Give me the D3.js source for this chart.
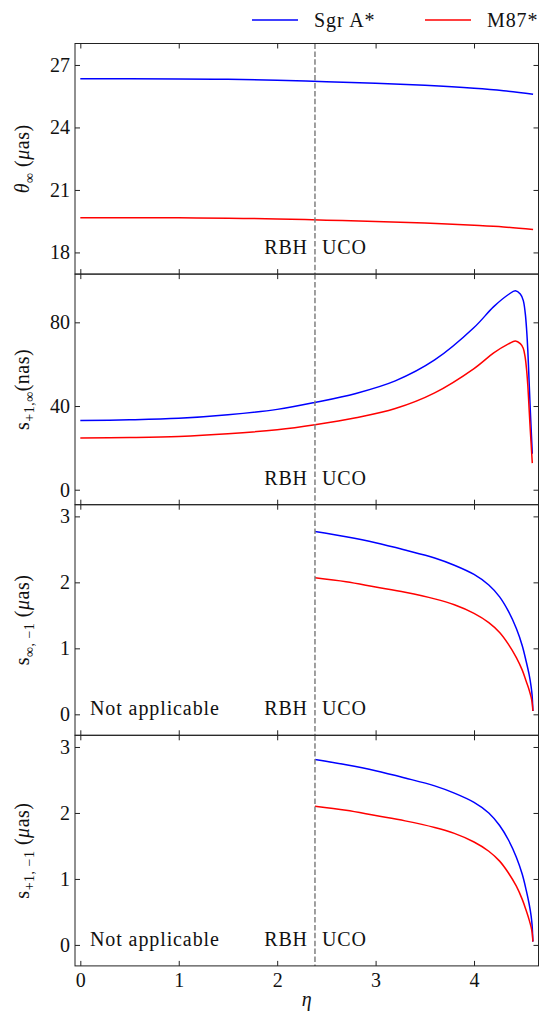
<!DOCTYPE html>
<html><head><meta charset="utf-8">
<script src="https://cdn.jsdelivr.net/npm/d3@7/dist/d3.min.js"></script>
<style>
body{margin:0;background:#fff;}
svg{display:block;}
</style></head>
<body><svg id="chart" width="542" height="1015"></svg>
<script>
// ---------- data ----------
const etaCritical = 2.384;
const xTicks = [0, 1, 2, 3, 4];
const seriesNames = ["Sgr A*", "M87*"];

// panel 1
const etaTheta = [0, 0.5, 1, 1.5, 2, 2.5, 3, 3.5, 4, 4.3, 4.6];
const thetaSgr = [26.34, 26.34, 26.33, 26.31, 26.27, 26.19, 26.12, 26.02, 25.88, 25.76, 25.59];
const thetaM87 = [19.67, 19.67, 19.66, 19.64, 19.61, 19.55, 19.49, 19.41, 19.30, 19.22, 19.10];

// panel 2
const etaS2 = [0, 0.5, 1, 1.5, 2, 2.384, 2.8, 3.2, 3.6, 4.0, 4.2, 4.35, 4.42, 4.47, 4.50, 4.52, 4.535, 4.547, 4.558, 4.568, 4.578, 4.592];
const sP1InfSgr = [33.1, 33.4, 34.1, 35.8, 38.4, 41.7, 46.0, 52.0, 62.0, 77.5, 87.5, 93.3, 95.1, 93.5, 90.5, 84.5, 76.0, 66.0, 53.5, 42.0, 31.5, 17.2];
const sP1InfM87 = [24.7, 24.9, 25.4, 26.7, 28.7, 31.1, 34.4, 38.8, 46.3, 57.9, 65.4, 69.7, 71.1, 69.8, 67.6, 63.1, 56.8, 49.3, 40.0, 31.4, 23.5, 12.7];

// panels 3 & 4 (UCO branch only)
const etaUCO = [2.384, 2.7, 3.0, 3.3, 3.6, 3.8, 4.0, 4.15, 4.26, 4.35, 4.43, 4.49, 4.53, 4.56, 4.58, 4.59, 4.598];
const sInfM1Sgr = [2.77, 2.69, 2.60, 2.49, 2.37, 2.26, 2.12, 1.96, 1.78, 1.56, 1.30, 1.04, 0.80, 0.60, 0.42, 0.29, 0.05];
const sInfM1M87 = [2.07, 2.01, 1.93, 1.85, 1.75, 1.66, 1.53, 1.39, 1.24, 1.06, 0.86, 0.67, 0.50, 0.37, 0.26, 0.18, 0.05];
const sP1M1Sgr = [2.81, 2.73, 2.64, 2.53, 2.41, 2.30, 2.16, 2.00, 1.81, 1.59, 1.33, 1.07, 0.83, 0.62, 0.44, 0.30, 0.05];
const sP1M1M87 = [2.10, 2.04, 1.96, 1.88, 1.78, 1.69, 1.56, 1.42, 1.27, 1.09, 0.89, 0.69, 0.52, 0.38, 0.27, 0.19, 0.05];

const yTicks1 = [18, 21, 24, 27];
const yTicks2 = [0, 40, 80];
const yTicks34 = [0, 1, 2, 3];

// ---------- layout ----------
const FONT = "Liberation Serif";
const svg = d3.select("#chart");
const L = 75, R = 538.5, top0 = 43.5, PH = 230.6;
const colors = ["#0000ff", "#ff0000"];
const FS = 20;
const LS = "0.9px";

const x = d3.scaleLinear().domain([-0.054, 4.655]).range([L, R]);

const panels = [
  {dom:[16.96, 28.03], ticks:yTicks1, xs:etaTheta, ys:[thetaSgr, thetaM87], label:"theta", na:false},
  {dom:[-7.16, 103.05], ticks:yTicks2, xs:etaS2, ys:[sP1InfSgr, sP1InfM87], label:"s2", na:false},
  {dom:[-0.318, 3.177], ticks:yTicks34, xs:etaUCO, ys:[sInfM1Sgr, sInfM1M87], label:"s3", na:true},
  {dom:[-0.318, 3.177], ticks:yTicks34, xs:etaUCO, ys:[sP1M1Sgr, sP1M1M87], label:"s4", na:true}
];

panels.forEach((p, i) => {
  const t = top0 + i*PH, b = t + PH;
  const y = d3.scaleLinear().domain(p.dom).range([b, t]);
  const g = svg.append("g");

  const line = d3.line().x(d => x(d[0])).y(d => y(d[1])).curve(d3.curveCatmullRom.alpha(0.5));
  p.ys.forEach((vals, k) => {
    g.append("path").datum(p.xs.map((e, j) => [e, vals[j]]))
      .attr("d", line).attr("fill", "none")
      .attr("stroke", colors[k]).attr("stroke-width", 1.5);
  });

  g.append("line").attr("x1", x(etaCritical)).attr("x2", x(etaCritical))
    .attr("y1", t).attr("y2", b)
    .attr("stroke", "#808080").attr("stroke-width", 1.5).attr("stroke-dasharray", "5.5,2.4");

  const ax = (gen, tx, ty) => {
    const a = g.append("g").attr("transform", `translate(${tx},${ty})`).call(gen);
    a.select(".domain").remove();
    a.selectAll(".tick line").attr("stroke", "#222").attr("stroke-width", 1);
    a.selectAll("text").attr("font-size", FS).style("font-family", FONT).attr("fill", "#111");
    return a;
  };
  const fmt = d3.format("d");
  ax(d3.axisLeft(y).tickValues(p.ticks).tickSize(-5).tickPadding(5).tickFormat(fmt), L, 0);
  ax(d3.axisRight(y).tickValues(p.ticks).tickSize(-5).tickFormat(""), R, 0);
  ax(d3.axisTop(x).tickValues(xTicks).tickSize(-5).tickFormat(""), 0, t);
  if (i === 3) {
    ax(d3.axisBottom(x).tickValues(xTicks).tickSize(-5).tickPadding(7).tickFormat(fmt), 0, b);
  } else {
    ax(d3.axisBottom(x).tickValues(xTicks).tickSize(-5).tickFormat(""), 0, b);
  }

  g.append("rect").attr("x", L).attr("y", t).attr("width", R - L).attr("height", PH)
    .attr("fill", "none").attr("stroke", "#222").attr("stroke-width", 1);

  const base = b - 20;
  const txt = (xx, anchor, s) => g.append("text").attr("x", xx).attr("y", base)
    .attr("text-anchor", anchor).style("font-family", FONT).style("letter-spacing", LS)
    .attr("font-size", FS).attr("fill", "#111").text(s);
  txt(x(etaCritical) - 7, "end", "RBH");
  txt(x(etaCritical) + 7, "start", "UCO");
  if (p.na) txt(90, "start", "Not applicable");

  const cy = (t + b) / 2;
  const lab = svg.append("text").attr("transform", `translate(29,${cy}) rotate(-90)`)
    .attr("text-anchor", "middle").style("font-family", FONT).style("letter-spacing", "0.5px")
    .attr("font-size", FS).attr("fill", "#111");
  const sub = (s) => { lab.append("tspan").attr("dy", 5).attr("font-size", 14).text(s); };
  const muas = () => {
    lab.append("tspan").attr("dy", -5).text(" (");
    lab.append("tspan").attr("font-style", "italic").text("μ");
    lab.append("tspan").text("as)");
  };
  if (p.label === "theta") {
    lab.append("tspan").attr("font-style", "italic").text("θ");
    sub("∞");
    muas();
  } else if (p.label === "s2") {
    lab.append("tspan").text("s");
    sub("+1,∞");
    lab.append("tspan").attr("dy", -5).text("(nas)");
  } else if (p.label === "s3") {
    lab.append("tspan").text("s");
    sub("∞, −1");
    muas();
  } else {
    lab.append("tspan").text("s");
    sub("+1, −1");
    muas();
  }
});

svg.append("text").attr("x", (L + R) / 2).attr("y", 1006).attr("text-anchor", "middle")
  .style("font-family", FONT).attr("font-size", FS).attr("font-style", "italic").attr("fill", "#111").text("η");

const legX = [[252, 298, 314], [425, 471, 487]];
seriesNames.forEach((n, k) => {
  svg.append("line").attr("x1", legX[k][0]).attr("x2", legX[k][1]).attr("y1", 20).attr("y2", 20)
    .attr("stroke", colors[k]).attr("stroke-width", 1.5);
  svg.append("text").attr("x", legX[k][2]).attr("y", 27).style("font-family", FONT)
    .style("letter-spacing", LS).attr("font-size", FS).attr("fill", "#111").text(n);
});
</script></body></html>
